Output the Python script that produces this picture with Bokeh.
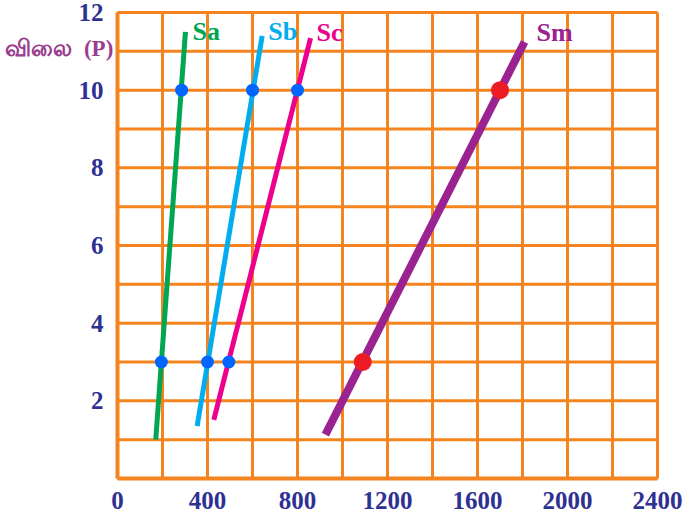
from bokeh.plotting import figure
from bokeh.models import FixedTicker, Label, Range1d
from bokeh.core.properties import value
from bokeh.embed import file_html
from bokeh.resources import INLINE

# ---- data ----
x_ticks = [0, 400, 800, 1200, 1600, 2000, 2400]
y_ticks = [2, 4, 6, 8, 10, 12]
x_grid = [0, 200, 400, 600, 800, 1000, 1200, 1400, 1600, 1800, 2000, 2200, 2400]
y_grid = [0, 1, 2, 3, 4, 5, 6, 7, 8, 9, 10, 11, 12]

series_names = ["Sa", "Sb", "Sc", "Sm"]
sa_x = [170, 302]
sa_p = [1.0, 11.5]
sb_x = [354, 643]
sb_p = [1.35, 11.4]
sc_x = [428, 858]
sc_p = [1.51, 11.34]
sm_x = [924, 1809]
sm_p = [1.13, 11.24]

dot_p = [3, 10]
sa_dots = [195, 285]
sb_dots = [400, 600]
sc_dots = [495, 800]
sm_dots = [1090, 1700]

y_label = "விலை\u00a0\u00a0(P)"

# ---- styles ----
ORANGE = "#F5841F"
NAVY = "#2E3192"
colors = {"Sa": "#00A651", "Sb": "#00AEEF", "Sc": "#EC008C", "Sm": "#9B2291"}
widths = {"Sa": 5, "Sb": 5, "Sc": 5, "Sm": 8}
label_off = {"Sa": (7, 0), "Sb": (6, -4), "Sc": (6, -6), "Sm": (12, -10)}
SERIF = "Liberation Serif"

W, H = 688, 512
PX_X = 0.225          # pixels per x unit
PX_Y = 466 / 12       # pixels per y unit
x0 = -117 / PX_X
y1 = 12 + 12 / PX_Y

p = figure(width=W, height=H,
           x_range=Range1d(x0, x0 + W / PX_X),
           y_range=Range1d(y1 - H / PX_Y, y1),
           output_backend="svg", toolbar_location=None,
           min_border=0, min_border_left=0, min_border_right=0,
           min_border_top=0, min_border_bottom=0,
           background_fill_color="white", border_fill_color="white")
p.xgrid.visible = False
p.ygrid.visible = False
p.outline_line_color = None

# grid (including top and right border)
p.segment(x0=x_grid, y0=[y_grid[0]] * len(x_grid), x1=x_grid,
          y1=[y_grid[-1]] * len(x_grid), line_color=ORANGE, line_width=3)
p.segment(x0=[x_grid[0]] * len(y_grid), y0=y_grid, x1=[x_grid[-1]] * len(y_grid),
          y1=y_grid, line_color=ORANGE, line_width=3)

# axes pinned to the grid origin
p.xaxis.fixed_location = 0
p.yaxis.fixed_location = 0
p.xaxis.bounds = (x_grid[0], x_grid[-1])
p.yaxis.bounds = (y_grid[0], y_grid[-1])
p.xaxis.ticker = FixedTicker(ticks=x_ticks)
p.yaxis.ticker = FixedTicker(ticks=y_ticks)
for ax in (p.xaxis, p.yaxis):
    ax.axis_line_color = ORANGE
    ax.axis_line_width = 4
    ax.major_tick_line_color = None
    ax.minor_tick_line_color = None
    ax.major_tick_out = 0
    ax.major_tick_in = 0
    ax.major_label_text_font = SERIF
    ax.major_label_text_font_style = "bold"
    ax.major_label_text_font_size = "25px"
    ax.major_label_text_color = NAVY
p.xaxis.major_label_standoff = 13
p.yaxis.major_label_standoff = 14

series = {"Sa": (sa_x, sa_p, sa_dots), "Sb": (sb_x, sb_p, sb_dots),
          "Sc": (sc_x, sc_p, sc_dots), "Sm": (sm_x, sm_p, sm_dots)}

for name in series_names:
    xs, ps, dots = series[name]
    p.line(xs, ps, line_color=colors[name], line_width=widths[name])
    dx, dy = label_off[name]
    p.text(x=[xs[-1]], y=[ps[-1]], text=[name], text_font=value(SERIF),
           text_font_style="bold", text_font_size="26px",
           text_color=colors[name], text_baseline="middle",
           x_offset=dx, y_offset=dy)

for name in ["Sa", "Sb", "Sc"]:
    p.scatter(series[name][2], dot_p, size=13, fill_color="#0066FF",
              line_color=None)
p.scatter(sm_dots, dot_p, size=18, fill_color="#ED1C24", line_color=None)

p.add_layout(Label(x=-498, y=11.07, text=y_label, text_font=SERIF,
                   text_font_style="bold", text_font_size="23px",
                   text_color="#9B3D8E", text_baseline="middle",
                   text_align="left"))

open("out.html", "w").write(file_html(p, INLINE))
